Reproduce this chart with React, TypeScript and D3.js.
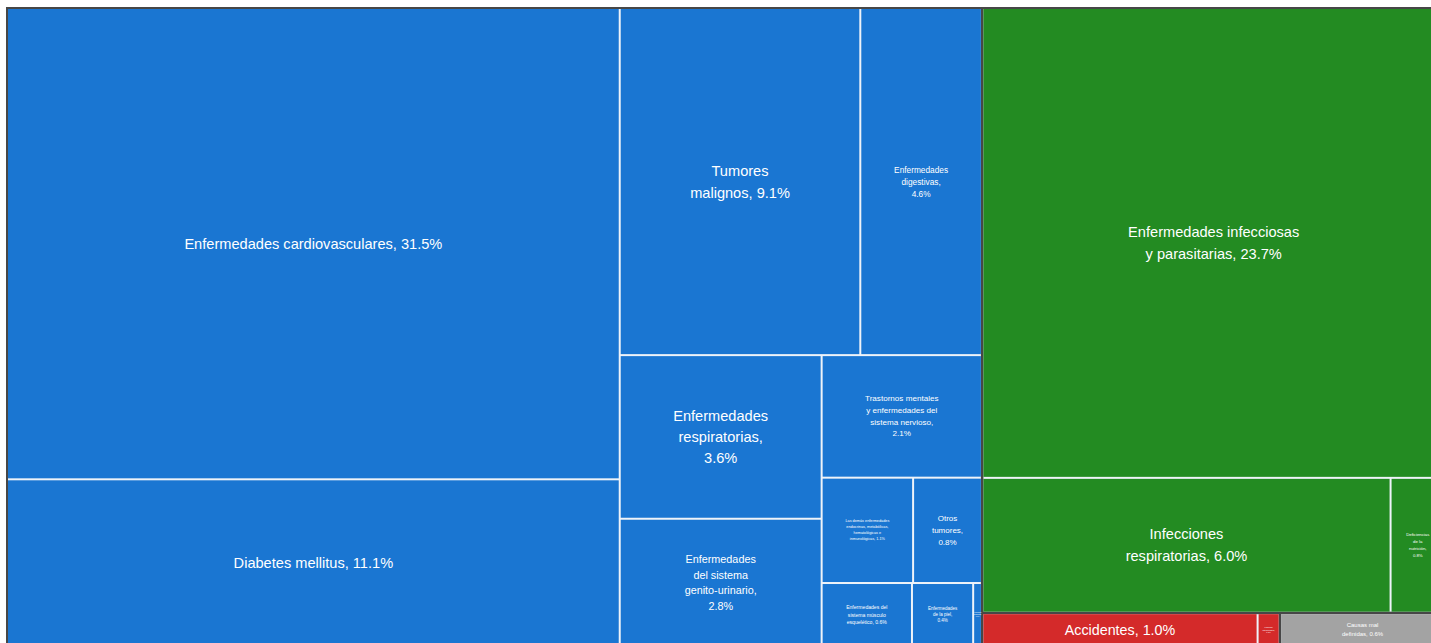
import React, { useMemo } from "react";
import * as d3 from "d3";

// ---- Data ----
const groupNames = [
  "Enfermedades no transmisibles",
  "Enfermedades transmisibles y nutricionales",
  "Lesiones",
  "Causas mal definidas",
];

const causeNames = [
  "Enfermedades cardiovasculares",
  "Diabetes mellitus",
  "Tumores malignos",
  "Enfermedades digestivas",
  "Enfermedades respiratorias",
  "Enfermedades del sistema genito-urinario",
  "Trastornos mentales y enfermedades del sistema nervioso",
  "Las demás enfermedades endocrinas, metabólicas, hematológicas e inmunológicas",
  "Otros tumores",
  "Enfermedades del sistema músculo esquelético",
  "Enfermedades de la piel",
  "Anomalías congénitas",
  "Enfermedades infecciosas y parasitarias",
  "Infecciones respiratorias",
  "Deficiencias de la nutrición",
  "Accidentes",
  "Lesiones intencionales",
  "Causas mal definidas",
];

// percent of deaths
const causeValues = [
  31.47, 11.13, 9.1, 4.6, 3.6, 2.8, 2.14, 1.05, 0.79, 0.62, 0.42, 0.06,
  23.7, 6.0, 0.8,
  1.0, 0.08,
  0.6,
];

const causeGroups = [0, 0, 0, 0, 0, 0, 0, 0, 0, 0, 0, 0, 1, 1, 1, 2, 2, 3];

// label line breaks ("|") as in the reference; {p} = percentage
const labelTemplates = [
  "Enfermedades cardiovasculares, {p}",
  "Diabetes mellitus, {p}",
  "Tumores|malignos, {p}",
  "Enfermedades|digestivas,|{p}",
  "Enfermedades|respiratorias,|{p}",
  "Enfermedades|del sistema|genito-urinario,|{p}",
  "Trastornos mentales|y enfermedades del|sistema nervioso,|{p}",
  "Las demás enfermedades|endocrinas, metabólicas,|hematológicas e|inmunológicas, {p}",
  "Otros|tumores,|{p}",
  "Enfermedades del|sistema músculo|esquelético, {p}",
  "Enfermedades|de la piel,|{p}",
  "Anomalías|congénitas,|{p}",
  "Enfermedades infecciosas|y parasitarias, {p}",
  "Infecciones|respiratorias, {p}",
  "Deficiencias|de la|nutrición,|{p}",
  "Accidentes, {p}",
  "Lesiones|intencionales,|{p}",
  "Causas mal|definidas, {p}",
];

// ---- Styles ----
const groupColors = ["#1a76d2", "#238b22", "#d42a2a", "#a3a3a3"];
const labelFont: Record<string, [number, number]> = {
  "Enfermedades cardiovasculares": [14.6, 21],
  "Diabetes mellitus": [14.6, 21],
  "Tumores malignos": [14.6, 22],
  "Enfermedades digestivas": [8.3, 12],
  "Enfermedades respiratorias": [14.6, 21],
  "Enfermedades del sistema genito-urinario": [10.8, 15.5],
  "Trastornos mentales y enfermedades del sistema nervioso": [8.1, 11.7],
  "Las demás enfermedades endocrinas, metabólicas, hematológicas e inmunológicas": [3.8, 6],
  "Otros tumores": [8, 11.8],
  "Enfermedades del sistema músculo esquelético": [5.1, 7.5],
  "Enfermedades de la piel": [4.5, 6.4],
  "Anomalías congénitas": [1.6, 2.4],
  "Enfermedades infecciosas y parasitarias": [14.6, 22],
  "Infecciones respiratorias": [14.6, 22],
  "Deficiencias de la nutrición": [4.3, 6.9],
  "Accidentes": [14.3, 20],
  "Lesiones intencionales": [2, 2.7],
  "Causas mal definidas": [6, 8.3],
};

const W = 1431;
const H = 643;
const X0 = 8;
const Y0 = 9;
const TW = 1436;
const TH = 636;

type Leaf = { name: string; value: number; idx: number };
type Node = { name: string; gi?: number; children?: any[]; value?: number; idx?: number };

export default function App() {
  const root = useMemo(() => {
    const data: Node = {
      name: "root",
      children: groupNames.map((g, gi) => ({
        name: g,
        gi,
        children: causeNames
          .map((n, i) => ({ name: n, value: causeValues[i], idx: i }))
          .filter((c: Leaf) => causeGroups[c.idx] === gi),
      })),
    };
    const h = d3
      .hierarchy<Node>(data)
      .sum((d) => (d.children ? 0 : d.value ?? 0))
      .sort((a, b) => (b.value ?? 0) - (a.value ?? 0));
    d3
      .treemap<Node>()
      .tile(d3.treemapSquarify)
      .size([TW, TH])
      .paddingInner((n) => (n.depth === 0 ? 2.5 : 2))(h);
    return h as d3.HierarchyRectangularNode<Node>;
  }, []);

  const groups = root.children ?? [];
  const leaves = root.leaves();
  const fmt = (v: number) => v.toFixed(1) + "%";

  return (
    <svg
      width={W}
      height={H}
      style={{ position: "absolute", left: 0, top: 0, display: "block" }}
      fontFamily="'Liberation Sans', Arial, Helvetica, sans-serif"
    >
      <rect x={0} y={0} width={W} height={H} fill="#ffffff" />
      <rect x={6} y={7} width={W} height={H} fill="#474747" />
      <g transform={`translate(${X0},${Y0})`}>
        {groups.map((g) => (
          <rect
            key={g.data.name}
            x={g.x0}
            y={g.y0}
            width={g.x1 - g.x0}
            height={g.y1 - g.y0}
            fill="#eef3f9"
          />
        ))}
        {leaves.map((l) => {
          const gi = l.parent!.data.gi ?? 0;
          return (
            <rect
              key={l.data.name}
              x={l.x0}
              y={l.y0}
              width={Math.max(0, l.x1 - l.x0)}
              height={Math.max(0, l.y1 - l.y0)}
              fill={groupColors[gi]}
            />
          );
        })}
        {leaves.map((l) => {
          const idx = l.data.idx ?? 0;
          const lines = labelTemplates[idx]
            .replace("{p}", fmt(causeValues[idx]))
            .split("|");
          const [fs, lh] = labelFont[l.data.name] ?? [10, 14];
          const cx = (l.x0 + l.x1) / 2;
          const cy = (l.y0 + l.y1) / 2;
          const startY = cy - ((lines.length - 1) * lh) / 2;
          return (
            <text
              key={"t" + l.data.name}
              textAnchor="middle"
              fill="#ffffff"
              fontSize={fs}
            >
              {lines.map((ln, k) => (
                <tspan key={k} x={cx} y={startY + k * lh} dominantBaseline="central">
                  {ln}
                </tspan>
              ))}
            </text>
          );
        })}
      </g>
    </svg>
  );
}
